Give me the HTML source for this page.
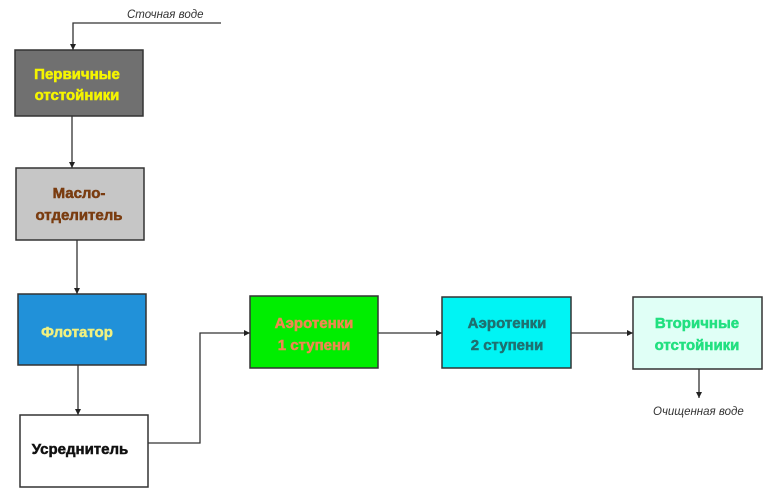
<!DOCTYPE html>
<html><head><meta charset="utf-8"><style>
html,body{margin:0;padding:0;background:#fff;width:770px;height:494px;overflow:hidden}
svg{display:block}
.t{font-family:"Liberation Sans",sans-serif;font-weight:bold;font-size:15px;text-anchor:middle;stroke-width:0.5px}
.i{font-family:"Liberation Sans",sans-serif;font-style:italic;font-size:11.5px;fill:#333}
</style></head><body>
<svg width="770" height="494" viewBox="0 0 770 494" xmlns="http://www.w3.org/2000/svg">
<defs><marker id="a" markerWidth="8" markerHeight="8" refX="7" refY="4" orient="auto" markerUnits="userSpaceOnUse"><path d="M1,1 L7,4 L1,7 Z" fill="#222"/></marker></defs>
<g stroke="#333" stroke-width="1.3" fill="none">
<polyline points="221,23 73,23 73,50" marker-end="url(#a)"/>
<line x1="72" y1="116" x2="72" y2="168" marker-end="url(#a)"/>
<line x1="77" y1="240" x2="77" y2="294" marker-end="url(#a)"/>
<line x1="78" y1="365" x2="78" y2="415" marker-end="url(#a)"/>
<polyline points="148,443 200,443 200,333 250,333" marker-end="url(#a)"/>
<line x1="378" y1="333" x2="442" y2="333" marker-end="url(#a)"/>
<line x1="571" y1="333" x2="633" y2="333" marker-end="url(#a)"/>
<line x1="699" y1="369" x2="699" y2="398" marker-end="url(#a)"/>
</g>
<g stroke="#333" stroke-width="1.5">
<rect x="15" y="50" width="128" height="66" fill="#707070"/>
<rect x="16" y="168" width="128" height="72" fill="#c6c6c6"/>
<rect x="18" y="294" width="128" height="71" fill="#2191d9"/>
<rect x="20" y="415" width="128" height="72" fill="#fff"/>
<rect x="250" y="296" width="128" height="72" fill="#00ee00"/>
<rect x="442" y="297" width="129" height="71" fill="#00f4f4"/>
<rect x="633" y="297" width="129" height="72" fill="#e0fff6"/>
</g>
<text class="i" x="127" y="18">Сточная водe</text>
<text class="i" x="653" y="415">Очищенная водe</text>
<text class="t" x="77" y="79" fill="#f5f500" stroke="#f5f500">Первичные</text>
<text class="t" x="77" y="100" fill="#f5f500" stroke="#f5f500">отстойники</text>
<text class="t" x="79" y="198" fill="#7a3c10" stroke="#7a3c10">Масло-</text>
<text class="t" x="79" y="220" fill="#7a3c10" stroke="#7a3c10">отделитель</text>
<text class="t" x="77" y="337" fill="#f0f080" stroke="#f0f080">Флотатор</text>
<text class="t" x="80" y="454" fill="#111" stroke="#111">Усреднитель</text>
<text class="t" x="314" y="328" fill="#ee8850" stroke="#ee8850">Аэротенки</text>
<text class="t" x="314" y="350" fill="#ee8850" stroke="#ee8850">1 ступени</text>
<text class="t" x="507" y="328" fill="#1f7070" stroke="#1f7070">Аэротенки</text>
<text class="t" x="507" y="350" fill="#1f7070" stroke="#1f7070">2 ступени</text>
<text class="t" x="697" y="328" fill="#22e080" stroke="#22e080">Вторичные</text>
<text class="t" x="697" y="350" fill="#22e080" stroke="#22e080">отстойники</text>
</svg>
</body></html>
